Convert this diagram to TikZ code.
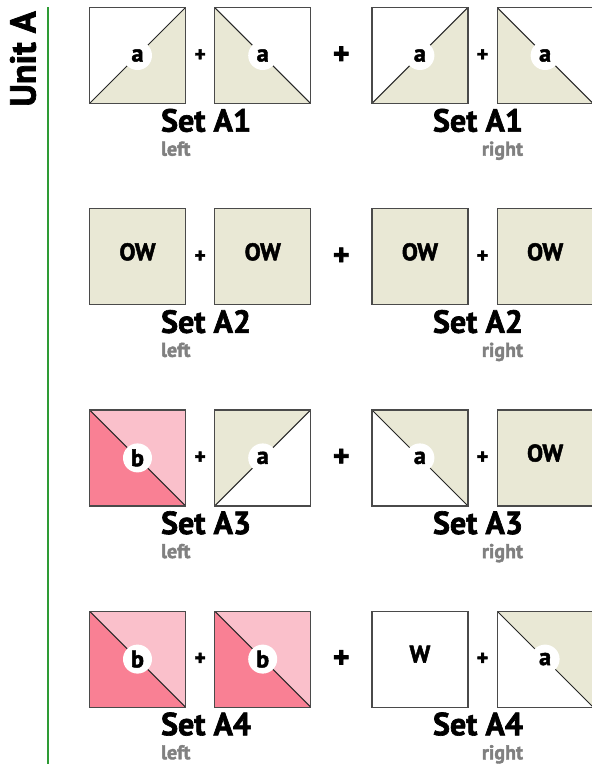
\documentclass[tikz,border=0pt]{standalone}
\usepackage{fontspec}
\setmainfont{PT Sans}[BoldFeatures={FakeBold=2}]
\usetikzlibrary{positioning,calc}
\definecolor{PatchTan}{HTML}{E9E8D5}
\definecolor{PinkLight}{HTML}{FAC0CB}
\definecolor{PinkDark}{HTML}{F98094}
\definecolor{EdgeGrey}{HTML}{4A4A4A}
\definecolor{NoteGrey}{HTML}{808080}
\definecolor{RuleGreen}{HTML}{2E9B35}
\tikzset{
  patch/.style={rectangle,draw=EdgeGrey,line width=1.2pt,fill=white,
                minimum size=96pt,inner sep=0pt,
                font=\fontsize{24}{24}\selectfont\bfseries},
  seam/.style={line width=1pt,draw=black!85},
  flat/.style={patch,fill=#1,text depth=10pt},
  % half-square triangles, #1 = colour of the filled half
  lowR/.style={patch,path picture={
      \fill[#1] (path picture bounding box.south west) -| (path picture bounding box.north east) -- cycle;
      \draw[seam] (path picture bounding box.south west) -- (path picture bounding box.north east);
      \fill[white] (path picture bounding box.center) circle (14.5pt);}},
  upL/.style={patch,path picture={
      \fill[#1] (path picture bounding box.south west) |- (path picture bounding box.north east) -- cycle;
      \draw[seam] (path picture bounding box.south west) -- (path picture bounding box.north east);
      \fill[white] (path picture bounding box.center) circle (14.5pt);}},
  lowL/.style={patch,path picture={
      \fill[#1] (path picture bounding box.north west) |- (path picture bounding box.south east) -- cycle;
      \draw[seam] (path picture bounding box.north west) -- (path picture bounding box.south east);
      \fill[white] (path picture bounding box.center) circle (14.5pt);}},
  upR/.style={patch,path picture={
      \fill[#1] (path picture bounding box.north west) -| (path picture bounding box.south east) -- cycle;
      \draw[seam] (path picture bounding box.north west) -- (path picture bounding box.south east);
      \fill[white] (path picture bounding box.center) circle (14.5pt);}}
}
\begin{document}
\begin{tikzpicture}[x=1pt,y=-1pt,
  setname/.style={inner sep=0pt,font=\fontsize{32}{32}\selectfont\bfseries},
  note/.style={inner sep=0pt,text=NoteGrey,font=\fontsize{20}{20}\selectfont\bfseries},
  plusS/.style={inner sep=0pt,font=\fontsize{22}{22}\selectfont\bfseries},
  plusL/.style={inner sep=0pt,font=\fontsize{32}{32}\selectfont\bfseries}
]
  \useasboundingbox (0,0) rectangle (592,764);
  \node[rotate=90,inner sep=0pt,font=\fontsize{36}{36}\selectfont\bfseries] (unit) at (23,59) {Unit A};
  \coordinate (ruletop) at (48,7);
  \coordinate (rulebot) at (48,764);
  \draw[RuleGreen,line width=1.5pt] (ruletop) -- (rulebot);

  % Set A1
  \node[lowR=PatchTan] (s11) at (137.5,55.5) {a};
  \node[lowL=PatchTan,right=28pt of s11] (s12) {a};
  \node[lowR=PatchTan,right=60pt of s12] (s13) {a};
  \node[lowL=PatchTan,right=28pt of s13] (s14) {a};
  % Set A2
  \node[flat=PatchTan,below=104pt of s11] (s21) {OW};
  \node[flat=PatchTan,right=28pt of s21] (s22) {OW};
  \node[flat=PatchTan,right=60pt of s22] (s23) {OW};
  \node[flat=PatchTan,right=28pt of s23] (s24) {OW};
  % Set A3
  \node[lowL=PinkDark,fill=PinkLight,below=104pt of s21] (s31) {b};
  \node[upL=PatchTan,right=28pt of s31] (s32) {a};
  \node[upR=PatchTan,right=60pt of s32] (s33) {a};
  \node[flat=PatchTan,right=28pt of s33] (s34) {OW};
  % Set A4
  \node[lowL=PinkDark,fill=PinkLight,below=104pt of s31] (s41) {b};
  \node[lowL=PinkDark,fill=PinkLight,right=28pt of s41] (s42) {b};
  \node[flat=white,right=60pt of s42] (s43) {W};
  \node[upR=PatchTan,right=28pt of s43] (s44) {a};

  % plus signs and set names
  \foreach \r in {1,...,4}{
    \node[plusS] (ps\r) at ($(s\r1.east)!.5!(s\r2.west)$) {+};
    \node[plusL] (pb\r) at ($(s\r2.east)!.5!(s\r3.west)$) {+};
    \node[plusS] (pt\r) at ($(s\r3.east)!.5!(s\r4.west)$) {+};
    \coordinate (ml\r) at (ps\r |- s\r1.south);
    \coordinate (mr\r) at (pt\r |- s\r3.south);
    \node[setname,below=4.5pt of ml\r,xshift=6pt] (nl\r) {Set A\r};
    \node[setname,below=4.5pt of mr\r,xshift=-4.5pt] (nr\r) {Set A\r};
    \node[note,below=9pt of nl\r.south west,anchor=north west] (xl\r) {left};
    \node[note,below=9pt of nr\r.south east,anchor=north east] (xr\r) {right};
  }
\end{tikzpicture}
\end{document}
